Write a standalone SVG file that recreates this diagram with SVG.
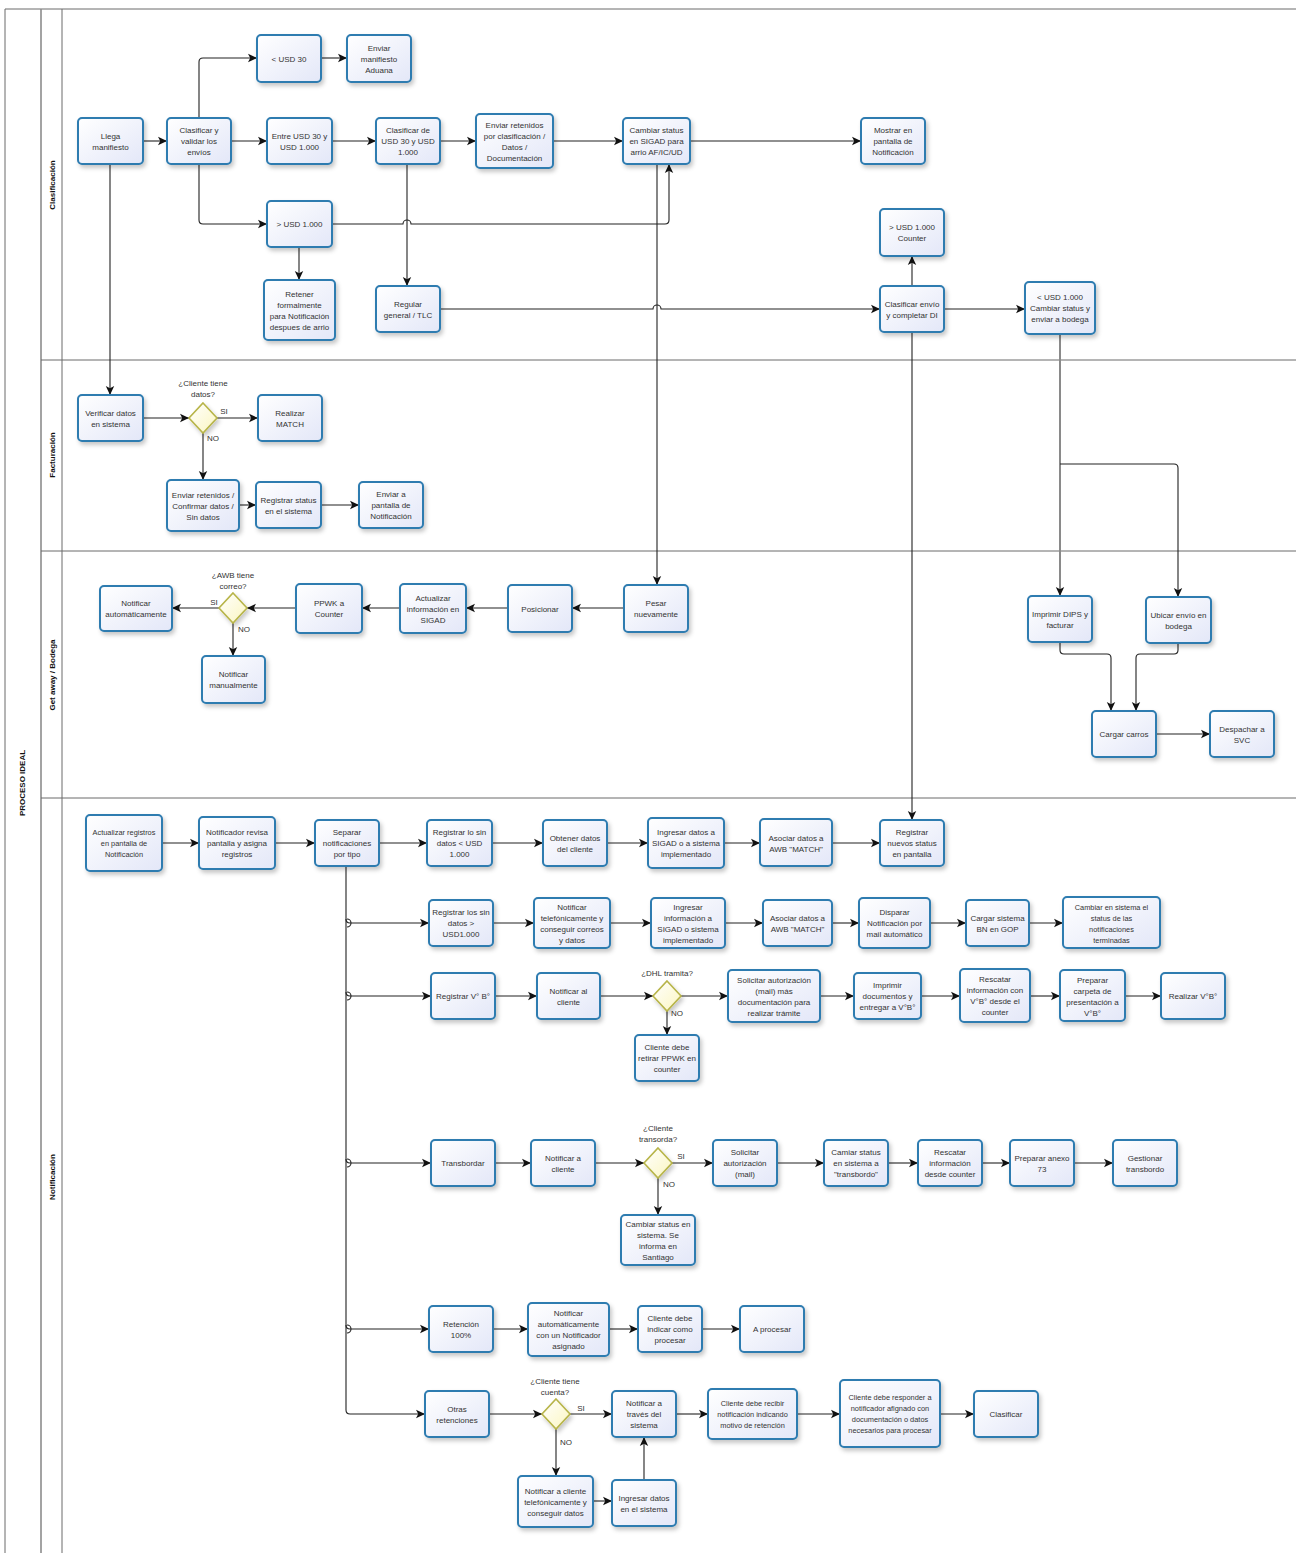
<svg xmlns="http://www.w3.org/2000/svg" width="1296" height="1553" viewBox="0 0 1296 1553">
<defs>
<linearGradient id="g" x1="0" y1="0" x2="1" y2="1"><stop offset="0" stop-color="#ffffff"/><stop offset="1" stop-color="#e3e7f8"/></linearGradient>
<linearGradient id="gy" x1="0" y1="0" x2="1" y2="1"><stop offset="0" stop-color="#ffffff"/><stop offset="1" stop-color="#fbf6c0"/></linearGradient>
<filter id="sh" x="-20%" y="-20%" width="150%" height="150%"><feDropShadow dx="2" dy="3" stdDeviation="2" flood-color="#000" flood-opacity="0.22"/></filter>
<marker id="a" markerUnits="userSpaceOnUse" markerWidth="10" markerHeight="10" refX="9" refY="5" orient="auto"><path d="M0,0.8 L9,5 L0,9.2 L2.2,5 z" fill="#111"/></marker>
</defs>
<style>
.n rect{fill:url(#g);stroke:#2d7bb0;stroke-width:2;filter:url(#sh)}
.d polygon{fill:url(#gy);stroke:#b7b448;stroke-width:1.6;filter:url(#sh)}
text{font-family:"Liberation Sans",Arial,sans-serif;font-size:8px;fill:#333;text-anchor:middle}
.s text{font-size:7.4px}
.lab{font-size:8px;fill:#333}
.lane{font-weight:bold;font-size:8px;fill:#111}
.c path{fill:none;stroke:#222;stroke-width:1.1}
.c path.e{marker-end:url(#a)}
.c path.gr{stroke:#8a8a8a;stroke-width:2}
.f line{stroke:#6a6a6a;stroke-width:1}
</style>
<rect width="1296" height="1553" fill="#fff"/>
<g id="frame" class="f">
<line x1="5" y1="9" x2="1296" y2="9"/>
<line x1="5" y1="9" x2="5" y2="1553"/>
<line x1="41" y1="9" x2="41" y2="1553" style="stroke:#8c8c8c;stroke-width:1.6"/>
<line x1="62" y1="9" x2="62" y2="1553"/>
<line x1="41" y1="360" x2="1296" y2="360"/>
<line x1="41" y1="551" x2="1296" y2="551"/>
<line x1="41" y1="798" x2="1296" y2="798"/>
<text class="lane" transform="translate(25,783) rotate(-90)">PROCESO IDEAL</text>
<text class="lane" transform="translate(55,185) rotate(-90)">Clasificación</text>
<text class="lane" transform="translate(55,455) rotate(-90)">Facturación</text>
<text class="lane" transform="translate(55,675) rotate(-90)">Get away / Bodega</text>
<text class="lane" transform="translate(55,1177) rotate(-90)">Notificación</text>
</g>
<g id="connectors" class="c">
<path class="e" d="M143,141 H167"/>
<path class="e" d="M199,118 V62 Q199,58 203,58 H257"/>
<path class="e" d="M231,141 H267"/>
<path class="e" d="M199,164 V220 Q199,224 203,224 H267"/>
<path class="e" d="M321,58 H347"/>
<path class="e" d="M332,141 H376"/>
<path class="e" d="M439,141 H476"/>
<path class="e" d="M553,141 H623"/>
<path class="e" d="M690,141 H861"/>
<path class="e" d="M407,164 V286"/>
<path class="e" d="M332,224 H403 a4,4 0 0 1 8,0 H665 Q669,224 669,220 V164"/>
<path class="e" d="M299,247 V280"/>
<path class="e" d="M439,309 H653 a4,4 0 0 1 8,0 H880"/>
<path class="e" d="M657,164 V585"/>
<path class="e" d="M912,286 V256"/>
<path class="e" d="M944,309 H1025"/>
<path class="e" d="M912,332 V820"/>
<path class="e" d="M110,164 V395"/>
<path class="e gr" d="M1060,334 V596"/>
<path class="e" d="M1060,464 H1174 Q1178,464 1178,468 V597"/>
<path class="e" d="M143,418 H189"/>
<path class="e" d="M217,418 H258"/>
<path class="e" d="M203,433 V480"/>
<path class="e" d="M239,505 H256"/>
<path class="e" d="M321,505 H359"/>
<path class="e" d="M624,608 H572"/>
<path class="e" d="M508,608 H466"/>
<path class="e" d="M400,608 H362"/>
<path class="e" d="M296,608 H247"/>
<path class="e" d="M219,608 H172"/>
<path class="e" d="M233,623 V656"/>
<path class="e" d="M1060,642 V650 Q1060,654 1064,654 H1107 Q1111,654 1111,658 V711"/>
<path class="e" d="M1178,643 V650 Q1178,654 1174,654 H1140 Q1136,654 1136,658 V711"/>
<path class="e" d="M1156,734 H1210"/>
<path class="e" d="M162,843 H199"/>
<path class="e" d="M275,843 H315"/>
<path class="e" d="M379,843 H427"/>
<path class="e" d="M492,843 H543"/>
<path class="e" d="M607,843 H648"/>
<path class="e" d="M723,843 H760"/>
<path class="e" d="M832,843 H880"/>
<path class="e" d="M346,866 V1410 Q346,1414 350,1414 H425"/>
<path class="e" d="M346,919 Q346,923 350,923 H429"/>
<path class="e" d="M346,992 Q346,996 350,996 H431"/>
<path class="e" d="M346,1159 Q346,1163 350,1163 H431"/>
<path class="e" d="M346,1325 Q346,1329 350,1329 H429"/>
<path d="M347,919 a4,4 0 0 1 0,8"/>
<path d="M347,992 a4,4 0 0 1 0,8"/>
<path d="M347,1159 a4,4 0 0 1 0,8"/>
<path d="M347,1325 a4,4 0 0 1 0,8"/>
<path class="e" d="M493,923 H534"/>
<path class="e" d="M610,923 H651"/>
<path class="e" d="M725,923 H763"/>
<path class="e" d="M832,923 H859"/>
<path class="e" d="M930,923 H966"/>
<path class="e" d="M1029,923 H1063"/>
<path class="e" d="M495,996 H537"/>
<path class="e" d="M600,996 H653"/>
<path class="e" d="M681,996 H728"/>
<path class="e" d="M820,996 H854"/>
<path class="e" d="M921,996 H960"/>
<path class="e" d="M1030,996 H1060"/>
<path class="e" d="M1125,996 H1161"/>
<path class="e" d="M667,1011 V1035"/>
<path class="e" d="M495,1163 H531"/>
<path class="e" d="M595,1163 H644"/>
<path class="e" d="M672,1163 H713"/>
<path class="e" d="M777,1163 H824"/>
<path class="e" d="M888,1163 H918"/>
<path class="e" d="M982,1163 H1010"/>
<path class="e" d="M1074,1163 H1113"/>
<path class="e" d="M658,1178 V1215"/>
<path class="e" d="M493,1329 H528"/>
<path class="e" d="M609,1329 H638"/>
<path class="e" d="M702,1329 H740"/>
<path class="e" d="M489,1414 H542"/>
<path class="e" d="M570,1414 H612"/>
<path class="e" d="M676,1414 H708"/>
<path class="e" d="M797,1414 H840"/>
<path class="e" d="M940,1414 H974"/>
<path class="e" d="M556,1429 V1476"/>
<path class="e" d="M593,1501 H612"/>
<path class="e" d="M644,1480 V1437"/>
</g>
<g id="n1" class="n"><rect x="78" y="118" width="65" height="46" rx="4"/><text x="110.5" y="138.5">Llega<tspan x="110.5" dy="11">manifiesto</tspan></text></g>
<g id="n2" class="n"><rect x="167" y="118" width="64" height="46" rx="4"/><text x="199" y="133">Clasificar y<tspan x="199" dy="11">validar los</tspan><tspan x="199" dy="11">envíos</tspan></text></g>
<g id="n3" class="n"><rect x="257" y="35" width="64" height="47" rx="4"/><text x="289" y="61.5">&lt; USD 30</text></g>
<g id="n4" class="n"><rect x="347" y="35" width="64" height="47" rx="4"/><text x="379" y="50.5">Enviar<tspan x="379" dy="11">manifiesto</tspan><tspan x="379" dy="11">Aduana</tspan></text></g>
<g id="n5" class="n"><rect x="267" y="118" width="65" height="46" rx="4"/><text x="299.5" y="138.5">Entre USD 30 y<tspan x="299.5" dy="11">USD 1.000</tspan></text></g>
<g id="n6" class="n"><rect x="376" y="118" width="64" height="46" rx="4"/><text x="408" y="133">Clasificar de<tspan x="408" dy="11">USD 30 y USD</tspan><tspan x="408" dy="11">1.000</tspan></text></g>
<g id="n7" class="n"><rect x="267" y="201" width="65" height="46" rx="4"/><text x="299.5" y="227">&gt; USD 1.000</text></g>
<g id="n8" class="n"><rect x="264" y="280" width="71" height="60" rx="4"/><text x="299.5" y="296.5">Retener<tspan x="299.5" dy="11">formalmente</tspan><tspan x="299.5" dy="11">para Notificación</tspan><tspan x="299.5" dy="11">despues de arrio</tspan></text></g>
<g id="n9" class="n"><rect x="376" y="286" width="64" height="46" rx="4"/><text x="408" y="306.5">Regular<tspan x="408" dy="11">general / TLC</tspan></text></g>
<g id="n10" class="n"><rect x="476" y="114" width="77" height="54" rx="4"/><text x="514.5" y="127.5">Enviar retenidos<tspan x="514.5" dy="11">por clasificación /</tspan><tspan x="514.5" dy="11">Datos /</tspan><tspan x="514.5" dy="11">Documentación</tspan></text></g>
<g id="n11" class="n"><rect x="623" y="118" width="67" height="46" rx="4"/><text x="656.5" y="133">Cambiar status<tspan x="656.5" dy="11">en SIGAD para</tspan><tspan x="656.5" dy="11">arrio  AF/IC/UD</tspan></text></g>
<g id="n12" class="n"><rect x="861" y="118" width="64" height="46" rx="4"/><text x="893" y="133">Mostrar en<tspan x="893" dy="11">pantalla de</tspan><tspan x="893" dy="11">Notificación</tspan></text></g>
<g id="n13" class="n"><rect x="880" y="209" width="64" height="47" rx="4"/><text x="912" y="230">&gt; USD 1.000<tspan x="912" dy="11">Counter</tspan></text></g>
<g id="n14" class="n"><rect x="880" y="286" width="64" height="46" rx="4"/><text x="912" y="306.5">Clasificar envío<tspan x="912" dy="11">y  completar DI</tspan></text></g>
<g id="n15" class="n"><rect x="1025" y="282" width="70" height="52" rx="4"/><text x="1060" y="300">&lt; USD 1.000<tspan x="1060" dy="11">Cambiar status y</tspan><tspan x="1060" dy="11">enviar a bodega</tspan></text></g>
<g id="n16" class="n"><rect x="78" y="395" width="65" height="46" rx="4"/><text x="110.5" y="415.5">Verificar datos<tspan x="110.5" dy="11">en sistema</tspan></text></g>
<g id="d1" class="d"><polygon points="203,403 217,418 203,433 189,418"/><text class="lab" x="203" y="386">¿Cliente tiene<tspan x="203" dy="11">datos?</tspan></text><text class="lab" x="224" y="414">SI</text><text class="lab" x="213" y="441">NO</text></g>
<g id="n17" class="n"><rect x="258" y="395" width="64" height="46" rx="4"/><text x="290" y="415.5">Realizar<tspan x="290" dy="11">MATCH</tspan></text></g>
<g id="n18" class="n"><rect x="167" y="480" width="72" height="51" rx="4"/><text x="203" y="497.5">Enviar retenidos /<tspan x="203" dy="11">Confirmar datos /</tspan><tspan x="203" dy="11">Sin datos</tspan></text></g>
<g id="n19" class="n"><rect x="256" y="482" width="65" height="46" rx="4"/><text x="288.5" y="502.5">Registrar status<tspan x="288.5" dy="11">en el sistema</tspan></text></g>
<g id="n20" class="n"><rect x="359" y="482" width="64" height="46" rx="4"/><text x="391" y="497">Enviar a<tspan x="391" dy="11">pantalla de</tspan><tspan x="391" dy="11">Notificación</tspan></text></g>
<g id="n21" class="n"><rect x="100" y="586" width="72" height="45" rx="4"/><text x="136" y="606">Notificar<tspan x="136" dy="11">automáticamente</tspan></text></g>
<g id="d2" class="d"><polygon points="233,593 247,608 233,623 219,608"/><text class="lab" x="233" y="578">¿AWB tiene<tspan x="233" dy="11">correo?</tspan></text><text class="lab" x="214" y="605">SI</text><text class="lab" x="244" y="632">NO</text></g>
<g id="n22" class="n"><rect x="202" y="656" width="63" height="47" rx="4"/><text x="233.5" y="677">Notificar<tspan x="233.5" dy="11">manualmente</tspan></text></g>
<g id="n23" class="n"><rect x="296" y="584" width="66" height="49" rx="4"/><text x="329" y="606">PPWK a<tspan x="329" dy="11">Counter</tspan></text></g>
<g id="n24" class="n"><rect x="400" y="584" width="66" height="49" rx="4"/><text x="433" y="600.5">Actualizar<tspan x="433" dy="11">información en</tspan><tspan x="433" dy="11">SIGAD</tspan></text></g>
<g id="n25" class="n"><rect x="508" y="585" width="64" height="47" rx="4"/><text x="540" y="611.5">Posicionar</text></g>
<g id="n26" class="n"><rect x="624" y="585" width="64" height="47" rx="4"/><text x="656" y="606">Pesar<tspan x="656" dy="11">nuevamente</tspan></text></g>
<g id="n27" class="n"><rect x="1028" y="596" width="64" height="46" rx="4"/><text x="1060" y="616.5">Imprimir DIPS y<tspan x="1060" dy="11">facturar</tspan></text></g>
<g id="n28" class="n"><rect x="1146" y="597" width="65" height="46" rx="4"/><text x="1178.5" y="617.5">Ubicar envío en<tspan x="1178.5" dy="11">bodega</tspan></text></g>
<g id="n29" class="n"><rect x="1092" y="711" width="64" height="46" rx="4"/><text x="1124" y="737">Cargar carros</text></g>
<g id="n30" class="n"><rect x="1210" y="711" width="64" height="46" rx="4"/><text x="1242" y="731.5">Despachar a<tspan x="1242" dy="11">SVC</tspan></text></g>
<g id="n31" class="n s"><rect x="86" y="815" width="76" height="56" rx="4"/><text x="124" y="835">Actualizar registros<tspan x="124" dy="11">en pantalla de</tspan><tspan x="124" dy="11">Notificación</tspan></text></g>
<g id="n32" class="n"><rect x="199" y="817" width="76" height="52" rx="4"/><text x="237" y="835">Notificador revisa<tspan x="237" dy="11">pantalla y  asigna</tspan><tspan x="237" dy="11">registros</tspan></text></g>
<g id="n33" class="n"><rect x="315" y="820" width="64" height="46" rx="4"/><text x="347" y="835">Separar<tspan x="347" dy="11">notificaciones</tspan><tspan x="347" dy="11">por tipo</tspan></text></g>
<g id="n34" class="n"><rect x="427" y="820" width="65" height="46" rx="4"/><text x="459.5" y="835">Registrar lo sin<tspan x="459.5" dy="11">datos &lt; USD</tspan><tspan x="459.5" dy="11">1.000</tspan></text></g>
<g id="n35" class="n"><rect x="543" y="820" width="64" height="46" rx="4"/><text x="575" y="840.5">Obtener datos<tspan x="575" dy="11">del cliente</tspan></text></g>
<g id="n36" class="n"><rect x="648" y="818" width="76" height="50" rx="4"/><text x="686" y="835">Ingresar datos a<tspan x="686" dy="11">SIGAD o a sistema</tspan><tspan x="686" dy="11">implementado</tspan></text></g>
<g id="n37" class="n"><rect x="760" y="819" width="72" height="47" rx="4"/><text x="796" y="840.5">Asociar datos a<tspan x="796" dy="11">AWB  "MATCH"</tspan></text></g>
<g id="n38" class="n"><rect x="880" y="820" width="64" height="46" rx="4"/><text x="912" y="835">Registrar<tspan x="912" dy="11">nuevos  status</tspan><tspan x="912" dy="11">en pantalla</tspan></text></g>
<g id="n39" class="n"><rect x="429" y="900" width="64" height="46" rx="4"/><text x="461" y="915">Registrar los sin<tspan x="461" dy="11">datos &gt;</tspan><tspan x="461" dy="11">USD1.000</tspan></text></g>
<g id="n40" class="n"><rect x="534" y="898" width="76" height="50" rx="4"/><text x="572" y="909.5">Notificar<tspan x="572" dy="11">telefónicamente y</tspan><tspan x="572" dy="11">conseguir correos</tspan><tspan x="572" dy="11">y datos</tspan></text></g>
<g id="n41" class="n"><rect x="651" y="898" width="74" height="50" rx="4"/><text x="688" y="909.5">Ingresar<tspan x="688" dy="11">información a</tspan><tspan x="688" dy="11">SIGAD o sistema</tspan><tspan x="688" dy="11">implementado</tspan></text></g>
<g id="n42" class="n"><rect x="763" y="900" width="69" height="46" rx="4"/><text x="797.5" y="920.5">Asociar datos a<tspan x="797.5" dy="11">AWB  "MATCH"</tspan></text></g>
<g id="n43" class="n"><rect x="859" y="898" width="71" height="50" rx="4"/><text x="894.5" y="915">Disparar<tspan x="894.5" dy="11">Notificación por</tspan><tspan x="894.5" dy="11">mail automático</tspan></text></g>
<g id="n44" class="n"><rect x="966" y="900" width="63" height="46" rx="4"/><text x="997.5" y="920.5">Cargar sistema<tspan x="997.5" dy="11">BN en GOP</tspan></text></g>
<g id="n45" class="n s"><rect x="1063" y="897" width="97" height="51" rx="4"/><text x="1111.5" y="909.5">Cambiar en sistema el<tspan x="1111.5" dy="11">status de las</tspan><tspan x="1111.5" dy="11">notificaciones</tspan><tspan x="1111.5" dy="11">terminadas</tspan></text></g>
<g id="n46" class="n"><rect x="431" y="973" width="64" height="46" rx="4"/><text x="463" y="999">Registrar V° B°</text></g>
<g id="n47" class="n"><rect x="537" y="973" width="63" height="46" rx="4"/><text x="568.5" y="993.5">Notificar al<tspan x="568.5" dy="11">cliente</tspan></text></g>
<g id="d3" class="d"><polygon points="667,981 681,996 667,1011 653,996"/><text class="lab" x="667" y="976">¿DHL tramita?</text><text class="lab" x="677" y="1016">NO</text></g>
<g id="n48" class="n"><rect x="635" y="1035" width="64" height="46" rx="4"/><text x="667" y="1050">Cliente debe<tspan x="667" dy="11">retirar PPWK en</tspan><tspan x="667" dy="11">counter</tspan></text></g>
<g id="n49" class="n"><rect x="728" y="970" width="92" height="52" rx="4"/><text x="774" y="982.5">Solicitar autorización<tspan x="774" dy="11">(mail) más</tspan><tspan x="774" dy="11">documentación para</tspan><tspan x="774" dy="11">realizar trámite</tspan></text></g>
<g id="n50" class="n"><rect x="854" y="973" width="67" height="46" rx="4"/><text x="887.5" y="988">Imprimir<tspan x="887.5" dy="11">documentos y</tspan><tspan x="887.5" dy="11">entregar a V°B°</tspan></text></g>
<g id="n51" class="n"><rect x="960" y="969" width="70" height="53" rx="4"/><text x="995" y="982">Rescatar<tspan x="995" dy="11">información con</tspan><tspan x="995" dy="11">V°B° desde el</tspan><tspan x="995" dy="11">counter</tspan></text></g>
<g id="n52" class="n"><rect x="1060" y="970" width="65" height="51" rx="4"/><text x="1092.5" y="982.5">Preparar<tspan x="1092.5" dy="11">carpeta de</tspan><tspan x="1092.5" dy="11">presentación a</tspan><tspan x="1092.5" dy="11">V°B°</tspan></text></g>
<g id="n53" class="n"><rect x="1161" y="973" width="64" height="46" rx="4"/><text x="1193" y="999">Realizar V°B°</text></g>
<g id="n54" class="n"><rect x="431" y="1140" width="64" height="46" rx="4"/><text x="463" y="1166">Transbordar</text></g>
<g id="n55" class="n"><rect x="531" y="1140" width="64" height="46" rx="4"/><text x="563" y="1160.5">Notificar a<tspan x="563" dy="11">cliente</tspan></text></g>
<g id="d4" class="d"><polygon points="658,1148 672,1163 658,1178 644,1163"/><text class="lab" x="658" y="1131">¿Cliente<tspan x="658" dy="11">transorda?</tspan></text><text class="lab" x="681" y="1159">SI</text><text class="lab" x="669" y="1187">NO</text></g>
<g id="n56" class="n"><rect x="713" y="1140" width="64" height="46" rx="4"/><text x="745" y="1155">Solicitar<tspan x="745" dy="11">autorización</tspan><tspan x="745" dy="11">(mail)</tspan></text></g>
<g id="n57" class="n"><rect x="824" y="1140" width="64" height="46" rx="4"/><text x="856" y="1155">Camiar status<tspan x="856" dy="11">en sistema a</tspan><tspan x="856" dy="11">"transbordo"</tspan></text></g>
<g id="n58" class="n"><rect x="918" y="1140" width="64" height="46" rx="4"/><text x="950" y="1155">Rescatar<tspan x="950" dy="11">información</tspan><tspan x="950" dy="11">desde counter</tspan></text></g>
<g id="n59" class="n"><rect x="1010" y="1140" width="64" height="46" rx="4"/><text x="1042" y="1160.5">Preparar anexo<tspan x="1042" dy="11">73</tspan></text></g>
<g id="n60" class="n"><rect x="1113" y="1140" width="64" height="46" rx="4"/><text x="1145" y="1160.5">Gestionar<tspan x="1145" dy="11">transbordo</tspan></text></g>
<g id="n61" class="n"><rect x="621" y="1215" width="74" height="50" rx="4"/><text x="658" y="1226.5">Cambiar status en<tspan x="658" dy="11">sistema. Se</tspan><tspan x="658" dy="11">informa en</tspan><tspan x="658" dy="11">Santiago</tspan></text></g>
<g id="n62" class="n"><rect x="429" y="1306" width="64" height="46" rx="4"/><text x="461" y="1326.5">Retención<tspan x="461" dy="11">100%</tspan></text></g>
<g id="n63" class="n"><rect x="528" y="1303" width="81" height="53" rx="4"/><text x="568.5" y="1316">Notificar<tspan x="568.5" dy="11">automáticamente</tspan><tspan x="568.5" dy="11">con un Notificador</tspan><tspan x="568.5" dy="11">asignado</tspan></text></g>
<g id="n64" class="n"><rect x="638" y="1306" width="64" height="46" rx="4"/><text x="670" y="1321">Cliente debe<tspan x="670" dy="11">indicar como</tspan><tspan x="670" dy="11">procesar</tspan></text></g>
<g id="n65" class="n"><rect x="740" y="1306" width="64" height="46" rx="4"/><text x="772" y="1332">A procesar</text></g>
<g id="n66" class="n"><rect x="425" y="1391" width="64" height="46" rx="4"/><text x="457" y="1411.5">Otras<tspan x="457" dy="11">retenciones</tspan></text></g>
<g id="d5" class="d"><polygon points="556,1399 570,1414 556,1429 542,1414"/><text class="lab" x="555" y="1384">¿Cliente tiene<tspan x="555" dy="11">cuenta?</tspan></text><text class="lab" x="581" y="1411">SI</text><text class="lab" x="566" y="1445">NO</text></g>
<g id="n67" class="n"><rect x="612" y="1391" width="64" height="46" rx="4"/><text x="644" y="1406">Notificar a<tspan x="644" dy="11">través del</tspan><tspan x="644" dy="11">sistema</tspan></text></g>
<g id="n68" class="n s"><rect x="708" y="1389" width="89" height="50" rx="4"/><text x="752.5" y="1406">Cliente debe recibir<tspan x="752.5" dy="11">notificación indicando</tspan><tspan x="752.5" dy="11">motivo de retención</tspan></text></g>
<g id="n69" class="n s"><rect x="840" y="1380" width="100" height="67" rx="4"/><text x="890" y="1400">Cliente debe responder a<tspan x="890" dy="11">notificador afignado con</tspan><tspan x="890" dy="11">documentación o datos</tspan><tspan x="890" dy="11">necesarios para procesar</tspan></text></g>
<g id="n70" class="n"><rect x="974" y="1391" width="64" height="46" rx="4"/><text x="1006" y="1417">Clasificar</text></g>
<g id="n71" class="n"><rect x="518" y="1476" width="75" height="51" rx="4"/><text x="555.5" y="1493.5">Notificar a cliente<tspan x="555.5" dy="11">telefónicamente y</tspan><tspan x="555.5" dy="11">conseguir datos</tspan></text></g>
<g id="n72" class="n"><rect x="612" y="1480" width="64" height="46" rx="4"/><text x="644" y="1500.5">Ingresar datos<tspan x="644" dy="11">en el sistema</tspan></text></g>
</svg>
